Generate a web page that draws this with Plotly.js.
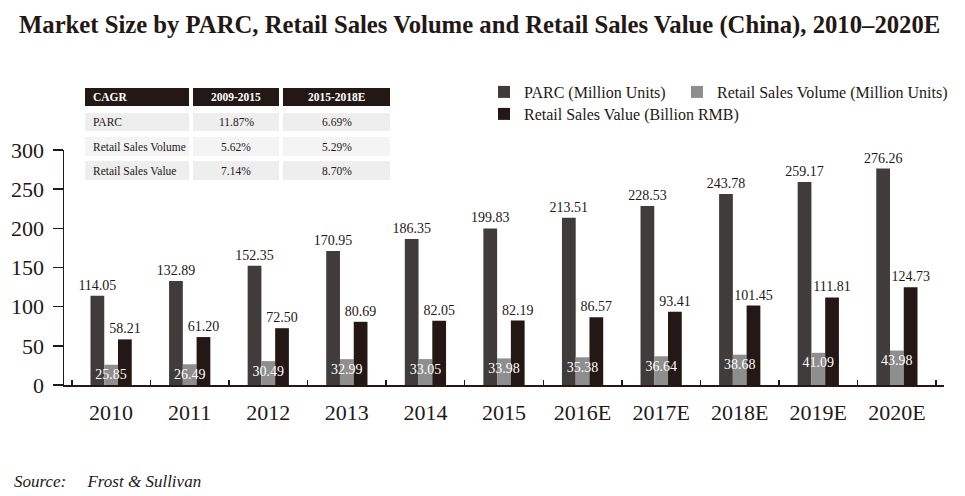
<!DOCTYPE html>
<html>
<head>
<meta charset="utf-8">
<script src="https://cdn.plot.ly/plotly-3.0.1.min.js"></script>
<style>html,body{margin:0;padding:0;background:#fff;}#chart{width:965px;height:496px;}</style>
</head>
<body>
<div id="chart"></div>
<script>
// ---- data ----
const years = ['2010','2011','2012','2013','2014','2015','2016E','2017E','2018E','2019E','2020E'];
const parc = [114.05,132.89,152.35,170.95,186.35,199.83,213.51,228.53,243.78,259.17,276.26];
const salesVolume = [25.85,26.49,30.49,32.99,33.05,33.98,35.38,36.64,38.68,41.09,43.98];
const salesValue = [58.21,61.20,72.50,80.69,82.05,82.19,86.57,93.41,101.45,111.81,124.73];
const seriesNames = ['PARC (Million Units)','Retail Sales Volume (Million Units)','Retail Sales Value (Billion RMB)'];
const cagrHeader = ['CAGR','2009-2015','2015-2018E'];
const cagrRows = ['PARC','Retail Sales Volume','Retail Sales Value'];
const cagr0915 = ['11.87%','5.62%','7.14%'];
const cagr1518 = ['6.69%','5.29%','8.70%'];
const yTicks = [0,50,100,150,200,250,300];

// ---- style ----
const FONT = 'Liberation Serif, Times New Roman, serif';
const INK = '#231815';
const C_PARC = '#403c3b', C_VOL = '#8e8e8e', C_VAL = '#231815';

// plot area geometry (pixels)
const W = 965, H = 496;
const M = {l: 64, r: 21, t: 150, b: 111};
const PW = W - M.l - M.r, PH = H - M.t - M.b;
const px2x = p => (p - M.l) / PW;
const py2y = p => (H - M.b - p) / PH;

const fmt = v => v.toFixed(2);

const traces = [
  {type:'bar', name:seriesNames[0], x:years, y:parc, marker:{color:C_PARC},
   text:parc.map(fmt), textposition:'outside', textangle:0, constraintext:'none', cliponaxis:false,
   textfont:{family:FONT,size:14,color:INK}, hoverinfo:'x+y', legend:'legend'},
  {type:'bar', name:seriesNames[1], x:years, y:salesVolume, marker:{color:C_VOL},
   hoverinfo:'x+y', legend:'legend3'},
  {type:'bar', name:seriesNames[2], x:years, y:salesValue, marker:{color:C_VAL},
   text:salesValue.map(fmt), textposition:'outside', textangle:0, constraintext:'none', cliponaxis:false,
   textfont:{family:FONT,size:14,color:INK}, hoverinfo:'x+y', legend:'legend2'},
  {type:'scatter', mode:'markers+text', x:years, y:salesVolume, text:salesVolume.map(fmt),
   marker:{size:5, opacity:0}, textposition:'bottom center',
   textfont:{family:FONT,size:14,color:'#ffffff'},
   showlegend:false, hoverinfo:'skip', cliponaxis:false}
];

// ---- CAGR table (shapes + annotations) ----
const shapes = [], annotations = [];
const colX = [[85,189],[193,279],[283,390]];
const rowY = [[88,106],[113,131],[137,156],[161,180]];
const rowFill = [INK,'#eeeeee','#f4f4f4','#eeeeee'];
rowY.forEach((ry,ri)=>{
  colX.forEach(cx=>{
    shapes.push({type:'rect', xref:'paper', yref:'paper', layer:'above',
      x0:px2x(cx[0]), x1:px2x(cx[1]), y0:py2y(ry[1]), y1:py2y(ry[0]),
      fillcolor:rowFill[ri], line:{width:0}});
  });
});
function cell(text, ci, ri, bold, color){
  const cx = colX[ci], ry = rowY[ri];
  const left = ci === 0;
  annotations.push({xref:'paper', yref:'paper', showarrow:false,
    x: left ? px2x(cx[0]+6) : px2x((cx[0]+cx[1])/2),
    xanchor: left ? 'left' : 'center',
    y: py2y((ry[0]+ry[1])/2), yanchor:'middle',
    text: bold ? '<b>'+text+'</b>' : text,
    font:{family:FONT, size:11.5, color:color}});
}
cagrHeader.forEach((t,i)=>cell(t,i,0,true,'#ffffff'));
cagrRows.forEach((t,i)=>{
  cell(t,0,i+1,false,INK);
  cell(cagr0915[i],1,i+1,false,INK);
  cell(cagr1518[i],2,i+1,false,INK);
});

annotations.push({xref:'paper', yref:'paper', showarrow:false,
  x:px2x(12), xanchor:'left', y:py2y(481), yanchor:'middle',
  text:'Source:\u00a0\u00a0\u00a0\u00a0\u00a0Frost & Sullivan',
  font:{family:FONT, size:17, style:'italic', color:INK}});

const legendBase = {orientation:'h', yanchor:'top',
  font:{family:FONT, size:16, color:INK}, bgcolor:'rgba(0,0,0,0)',
  itemclick:false, itemdoubleclick:false};

const layout = {
  width:W, height:H, margin:M,
  paper_bgcolor:'#ffffff', plot_bgcolor:'#ffffff',
  font:{family:FONT, color:INK},
  title:{text:'<b>Market Size by PARC, Retail Sales Volume and Retail Sales Value (China), 2010\u20132020E</b>',
    xref:'container', x:0.497, xanchor:'center', yref:'container', y:1-24/H, yanchor:'middle',
    font:{family:FONT, size:24.7, color:INK}},
  barmode:'group', bargap:0.475, bargroupgap:0,
  xaxis:{type:'category', showline:true, linecolor:INK, linewidth:1.5,
    ticks:'inside', tickson:'boundaries', ticklen:5, tickcolor:INK, tickwidth:1.5,
    tickfont:{family:FONT, size:22, color:INK}, ticklabelstandoff:7,
    showgrid:false, zeroline:false, fixedrange:true},
  yaxis:{range:[0,300], tickvals:yTicks, showline:true, linecolor:INK, linewidth:1.5,
    ticks:'outside', ticklen:10, tickcolor:INK, tickwidth:1.5,
    tickfont:{family:FONT, size:22, color:INK}, ticklabelstandoff:4,
    showgrid:false, zeroline:false, fixedrange:true},
  legend: Object.assign({}, legendBase, {x:px2x(484), xanchor:'left', y:py2y(75)}),
  legend3: Object.assign({}, legendBase, {x:px2x(953), xanchor:'right', y:py2y(75)}),
  legend2: Object.assign({}, legendBase, {x:px2x(484), xanchor:'left', y:py2y(97)}),
  shapes:shapes, annotations:annotations,
  showlegend:true
};

Plotly.newPlot('chart', traces, layout, {displayModeBar:false, staticPlot:true});
</script>
</body>
</html>
